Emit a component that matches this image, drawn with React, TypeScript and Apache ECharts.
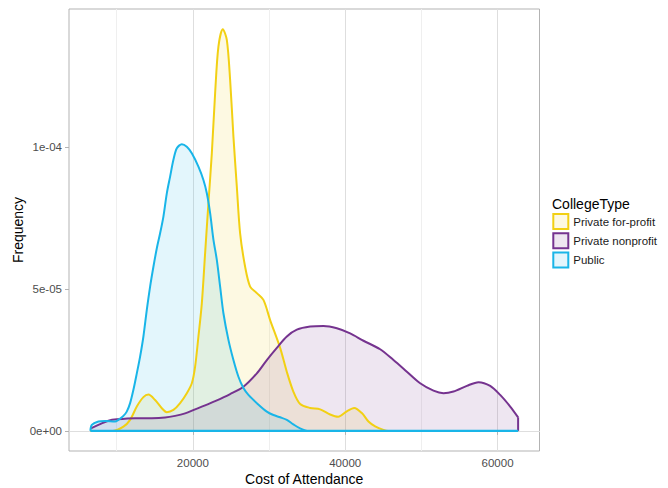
import React, { useEffect, useRef } from "react";
import * as echarts from "echarts";

// Density curves: [Cost of Attendance, Frequency]
const forProfitDensity: [number, number][] = [
  [6550, 0], [9500, 0], [10885, 1.5e-6], [11765, 3.9e-6], [12644, 8.6e-6],
  [13511, 1.19e-5], [14168, 1.28e-5], [15047, 1.09e-5], [15927, 8.0e-6],
  [16583, 6.6e-6], [17450, 7.4e-6], [18329, 9.8e-6], [19209, 1.33e-5],
  [19866, 1.68e-5], [20299, 2.27e-5], [20733, 3.33e-5], [21179, 4.5e-5],
  [21612, 6.27e-5], [22045, 8.03e-5], [22492, 9.79e-5], [22925, 1.191e-4],
  [23358, 1.355e-4], [23936, 1.417e-4], [24461, 1.379e-4], [24894, 1.238e-4],
  [25328, 1.038e-4], [25774, 8.61e-5], [26206, 6.97e-5], [26863, 5.79e-5],
  [27520, 5.09e-5], [28400, 4.86e-5], [29267, 4.62e-5], [30146, 3.91e-5],
  [31459, 2.93e-5], [32340, 2.08e-5], [33206, 1.38e-5], [34086, 9.5e-6],
  [35399, 8.1e-6], [36712, 7.6e-6], [38025, 5.8e-6], [39075, 5.0e-6],
  [40218, 6.9e-6], [41177, 8.1e-6], [42188, 6.3e-6], [43054, 3.3e-6],
  [43934, 1.6e-6], [45024, 3.5e-7], [45640, 0], [62700, 0],
];

const nonprofitDensity: [number, number][] = [
  [6550, 8e-7], [7826, 2.4e-6], [8915, 3.6e-6], [10018, 4.1e-6], [12421, 4.5e-6],
  [14614, 4.5e-6], [16360, 4.7e-6], [17673, 5.3e-6], [18986, 6.2e-6],
  [20299, 7.6e-6], [21612, 9.0e-6], [22925, 1.05e-5], [24894, 1.3e-5],
  [26641, 1.56e-5], [28400, 2.03e-5], [29713, 2.5e-5], [31026, 2.93e-5],
  [32340, 3.33e-5], [33652, 3.57e-5], [35399, 3.68e-5], [37145, 3.7e-5],
  [38903, 3.62e-5], [40650, 3.44e-5], [42397, 3.18e-5], [44589, 2.88e-5],
  [46336, 2.5e-5], [48095, 2.09e-5], [49842, 1.68e-5], [51588, 1.42e-5],
  [52901, 1.33e-5], [54214, 1.39e-5], [55974, 1.59e-5], [57497, 1.72e-5],
  [59033, 1.59e-5], [60346, 1.27e-5], [61659, 8.6e-6], [62700, 4.8e-6],
];
const nonprofitEdge: [number, number][] = [[62700, 4.8e-6], [62700, 0]];

const publicDensity: [number, number][] = [
  [6550, 0], [6735, 2.1e-6], [7605, 3.3e-6], [8482, 3.5e-6], [9795, 3.3e-6],
  [10228, 3.9e-6], [10885, 5.3e-6], [11323, 6.8e-6], [11765, 9.8e-6],
  [12198, 1.45e-5], [12644, 2.03e-5], [13077, 2.62e-5], [13511, 3.33e-5],
  [13957, 4.27e-5], [14391, 5.09e-5], [14824, 5.79e-5], [15270, 6.44e-5],
  [15703, 6.97e-5], [16137, 7.56e-5], [16583, 8.38e-5], [17016, 8.97e-5],
  [17450, 9.56e-5], [17896, 9.97e-5], [18553, 1.011e-4], [19209, 1.002e-4],
  [19866, 9.79e-5], [20733, 9.32e-5], [21389, 8.85e-5], [21836, 8.38e-5],
  [22269, 7.68e-5], [22702, 6.75e-5], [23148, 6.03e-5], [23582, 5.09e-5],
  [24015, 4.15e-5], [24672, 3.21e-5], [25328, 2.5e-5], [25985, 1.91e-5],
  [26641, 1.51e-5], [27298, 1.27e-5], [28400, 9.8e-6], [29713, 6.8e-6],
  [30580, 5.6e-6], [31465, 4.8e-6], [32339, 3.9e-6], [33200, 2.3e-6],
  [34086, 9e-7], [35177, 0], [62700, 0],
];
const baseline: [number, number][] = [[6550, 0], [62700, 0]];

const seriesNames = ["Private for-profit", "Private nonprofit", "Public"];
const lineColors = ["#F2D014", "#75338F", "#19B5E8"];
const fillColors = ["#FDF9E3", "#EEE6F0", "#E3F5FC"];

const xTickValues = [20000, 40000, 60000];
const xTickLabels = ["20000", "40000", "60000"];
const xMinorValues = [10000, 30000, 50000];
const yTickValues = [0, 5e-5, 1e-4];
const yTickLabels = ["0e+00", "5e-05", "1e-04"];
const yMinorValues = [2.5e-5, 7.5e-5, 1.25e-4];

const X_MIN = 3743;
const X_MAX = 65507;
const Y_MIN = -7.085e-6;
const Y_MAX = 1.488e-4;

const FONT = "Liberation Sans, Arial, sans-serif";

const nearestLabel = (values: number[], labels: string[], v: number) => {
  let best = 0;
  values.forEach((t, i) => {
    if (Math.abs(t - v) < Math.abs(values[best] - v)) best = i;
  });
  return labels[best];
};

export default function App() {
  const ref = useRef<HTMLDivElement>(null);

  useEffect(() => {
    if (!ref.current) return;
    const chart = echarts.init(ref.current, undefined, { renderer: "svg" });

    const gridLines = [
      ...xMinorValues.map((v) => ({ xAxis: v, lineStyle: { color: "#EFEFEF", width: 1, type: "solid" } })),
      ...yMinorValues.map((v) => ({ yAxis: v, lineStyle: { color: "#EFEFEF", width: 1, type: "solid" } })),
      ...xTickValues.map((v) => ({ xAxis: v, lineStyle: { color: "#DEDEDE", width: 1, type: "solid" } })),
      ...yTickValues.map((v) => ({ yAxis: v, lineStyle: { color: "#DEDEDE", width: 1, type: "solid" } })),
    ];

    const densitySeries = (name: string, data: [number, number][], i: number) => ({
      name,
      type: "line",
      data,
      smooth: 0.3,
      symbol: "none",
      showSymbol: false,
      lineStyle: { color: lineColors[i], width: 2 },
      itemStyle: { color: lineColors[i] },
      areaStyle: { color: lineColors[i], opacity: 0.12 },
      z: 2,
    });

    chart.setOption({
      animation: false,
      backgroundColor: "#ffffff",
      textStyle: { fontFamily: FONT },
      grid: {
        left: 69,
        top: 9,
        width: 470.5,
        height: 442,
        show: true,
        borderColor: "#B3B3B3",
        borderWidth: 1,
        backgroundColor: "transparent",
        containLabel: false,
        outerBoundsMode: "none",
      },
      xAxis: {
        type: "value",
        min: X_MIN,
        max: X_MAX,
        name: "Cost of Attendance",
        nameLocation: "middle",
        nameGap: 21,
        nameMoveOverlap: false,
        nameTextStyle: { color: "#000000", fontSize: 14, fontFamily: FONT },
        axisLine: { show: false },
        axisTick: { show: true, customValues: xTickValues, length: 4, lineStyle: { color: "#B3B3B3" } },
        axisLabel: {
          customValues: xTickValues,
          color: "#4D4D4D",
          fontSize: 11.5,
          margin: 6,
          fontFamily: FONT,
          formatter: (v: number) => nearestLabel(xTickValues, xTickLabels, v),
        },
        splitLine: { show: false },
      },
      yAxis: {
        type: "value",
        min: Y_MIN,
        max: Y_MAX,
        name: "Frequency",
        nameLocation: "middle",
        nameGap: 44,
        nameMoveOverlap: false,
        nameTextStyle: { color: "#000000", fontSize: 14, fontFamily: FONT },
        axisLine: { show: false },
        axisTick: { show: true, customValues: yTickValues, length: 4, lineStyle: { color: "#B3B3B3" } },
        axisLabel: {
          customValues: yTickValues,
          color: "#4D4D4D",
          fontSize: 11.5,
          margin: 7,
          fontFamily: FONT,
          formatter: (v: number) => nearestLabel(yTickValues, yTickLabels, v),
        },
        splitLine: { show: false },
      },
      legend: {
        orient: "vertical",
        left: 552.3,
        top: 213,
        padding: 0,
        itemWidth: 15,
        itemHeight: 15,
        itemGap: 2.3,
        icon: "rect",
        selectedMode: false,
        textStyle: { color: "#1A1A1A", fontSize: 11.5, fontFamily: FONT },
        data: seriesNames.map((n, i) => ({
          name: n,
          icon: "rect",
          itemStyle: { color: fillColors[i], borderColor: lineColors[i], borderWidth: 2 },
        })),
      },
      graphic: [
        {
          type: "text",
          left: 552,
          top: 197,
          style: { text: "CollegeType", fill: "#000000", fontSize: 14, fontFamily: FONT },
        },
      ],
      series: [
        {
          name: "grid",
          type: "line",
          data: [],
          z: 0,
          silent: true,
          markLine: {
            silent: true,
            z: 0,
            symbol: "none",
            label: { show: false },
            animation: false,
            emphasis: { disabled: true },
            data: gridLines,
          },
        },
        densitySeries(seriesNames[0], forProfitDensity, 0),
        densitySeries(seriesNames[1], nonprofitDensity, 1),
        {
          name: "nonprofitEdge",
          type: "line",
          data: nonprofitEdge,
          symbol: "none",
          lineStyle: { color: lineColors[1], width: 2 },
          z: 2,
        },
        densitySeries(seriesNames[2], publicDensity, 2),
        {
          name: "baseline",
          type: "line",
          data: baseline,
          symbol: "none",
          lineStyle: { color: lineColors[2], width: 2.2 },
          z: 3,
        },
      ],
    });

    return () => chart.dispose();
  }, []);

  return (
    <div
      ref={ref}
      style={{ position: "fixed", left: 0, top: 0, width: 668, height: 488, background: "#fff" }}
    />
  );
}
